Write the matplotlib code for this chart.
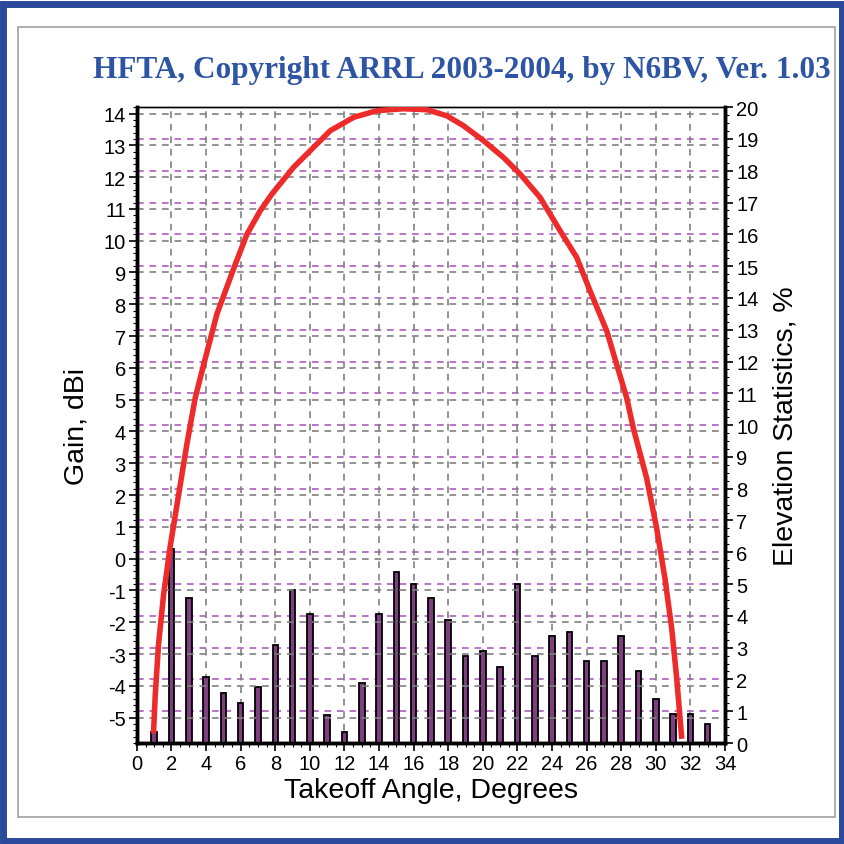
import matplotlib
matplotlib.use("Agg")
import matplotlib.pyplot as plt
from matplotlib.patches import Rectangle
from matplotlib.ticker import MultipleLocator

# elevation statistics, % of openings per takeoff angle
angles = list(range(1, 34))
elev_pct = [0.34, 6.1, 4.55, 2.08, 1.58, 1.27, 1.77, 3.07, 4.82, 4.07,
            0.89, 0.34, 1.89, 4.07, 5.38, 5.0, 4.56, 3.88, 2.75, 2.89,
            2.4, 5.0, 2.75, 3.38, 3.49, 2.58, 2.58, 3.38, 2.27, 1.39,
            0.9, 0.9, 0.59]

# antenna gain pattern (dBi) vs takeoff angle
gain_angle = [0.96, 1.06, 1.25, 1.54, 1.93, 2.41, 2.89, 3.37, 3.86, 4.63,
              5.69, 6.36, 7.13, 7.81, 9.06, 10.02, 11.18, 12.53, 13.88, 15.42,
              16.77, 17.91, 18.87, 20.03, 21.19, 22.15, 23.31, 24.47, 25.43, 26.2,
              27.17, 27.74, 28.32, 28.7, 29.47, 30.05, 30.53, 30.92, 31.21, 31.5]
gain_dbi = [-5.5, -4.3, -2.7, -1.15, 0.4, 2.0, 3.6, 5.05, 6.1, 7.7,
            9.26, 10.2, 10.94, 11.47, 12.31, 12.83, 13.46, 13.88, 14.09, 14.15,
            14.12, 13.93, 13.62, 13.15, 12.62, 12.1, 11.36, 10.31, 9.47, 8.42,
            7.15, 6.1, 5.05, 4.1, 2.53, 0.95, -0.63, -2.2, -3.78, -5.67]

x_ticks = list(range(0, 35, 2))
gain_ticks = list(range(-5, 15))
pct_ticks = list(range(0, 21))

title = "HFTA, Copyright ARRL 2003-2004, by N6BV, Ver. 1.03"

plt.rcParams["font.family"] = ["Liberation Sans", "DejaVu Sans"]
plt.rcParams["axes.unicode_minus"] = False

fig = plt.figure(figsize=(8.45, 8.45), dpi=100)
fig.patch.set_facecolor("white")

# window frame: blue border and gray inner panel
fig.patches.append(Rectangle((0.004, 0.004), 0.992, 0.990, transform=fig.transFigure,
                             fill=False, edgecolor="#2b4a9c", linewidth=5))
fig.patches.append(Rectangle((0.021, 0.032), 0.967, 0.935, transform=fig.transFigure,
                             fill=False, edgecolor="#a0a0a0", linewidth=1.2))

ax = fig.add_axes([0.162, 0.1195, 0.696, 0.7525])
ax.bar(angles, elev_pct, width=0.32, color="#7e3f80", edgecolor="black",
       linewidth=1.3, zorder=3)
ax.set_ylim(0, 20)
ax.set_xlim(0, 34)
for v in pct_ticks:
    ax.axhline(v, color="#b05cc0", linestyle=(0, (4, 3.5)), linewidth=1.2, zorder=1)
for v in x_ticks[1:-1]:
    ax.axvline(v, color="#808080", linestyle=(0, (4, 3.5)), linewidth=1.2, zorder=1)

ax.set_xticks(x_ticks)
ax.xaxis.set_minor_locator(MultipleLocator(0.5))
ax.set_xlabel("Takeoff Angle, Degrees", fontsize=20.5, labelpad=3)

ax2 = ax.twinx()
ax2.set_ylim(-5.8, 14.2)
ax2.plot(gain_angle, gain_dbi, color="#ee2b2b", linewidth=4, solid_capstyle="butt",
         zorder=5)
ax2.grid(axis="y", color="#808080", linestyle=(0, (4, 3.5)), linewidth=1.2)

# percent scale on the right, gain scale on the left
ax.yaxis.tick_right()
ax.yaxis.set_label_position("right")
ax.set_yticks(pct_ticks)
ax.yaxis.set_minor_locator(MultipleLocator(0.25))
ax.set_ylabel("Elevation Statistics, %", fontsize=20.5, labelpad=10)

ax2.yaxis.tick_left()
ax2.yaxis.set_label_position("left")
ax2.set_yticks(gain_ticks)
ax2.yaxis.set_minor_locator(MultipleLocator(0.2))
ax2.set_ylabel("Gain, dBi", fontsize=20.5, labelpad=10)

for a in (ax, ax2):
    a.tick_params(axis="both", which="major", labelsize=14.5, length=6, width=1.2,
                  colors="black", pad=2)
    a.tick_params(axis="both", which="minor", length=3, width=0.8)
    for side in ("left", "right", "bottom"):
        a.spines[side].set_linewidth(2.5)
    a.spines["top"].set_linewidth(1)

ax2.tick_params(axis="x", which="both", bottom=False, top=False)

fig.text(0.547, 0.917, title, ha="center", va="center", fontsize=22.5,
         fontweight="bold", color="#2e55a4", family=["Liberation Serif", "DejaVu Serif"])

fig.savefig("out.png", dpi=100)
